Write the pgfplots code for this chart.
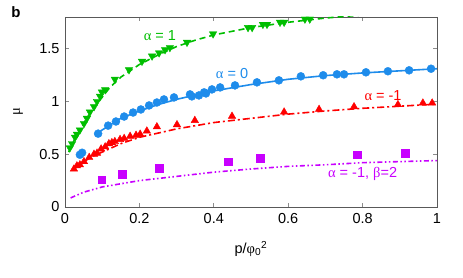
\documentclass[border=0pt]{standalone}
\usepackage{fontspec}
\setmainfont{Liberation Sans}
\newfontfamily\grk{Liberation Serif}
\usepackage{pgfplots}
\pgfplotsset{compat=1.18}
\definecolor{cgreen}{RGB}{0,190,0}
\definecolor{cblue}{RGB}{30,140,235}
\definecolor{cred}{RGB}{255,0,0}
\definecolor{cpurp}{RGB}{200,0,255}
\newcommand{\ff}{\fontsize{14.5}{16}\selectfont}
\begin{document}
\begin{tikzpicture}[font=\ff]
\begin{axis}[
  scale only axis, width=372pt, height=190pt,
  xmin=0, xmax=1, ymin=0, ymax=1.8,
  xtick={0,0.2,0.4,0.6,0.8,1}, ytick={0,0.5,1,1.5},
  xticklabels={0,0.2,0.4,0.6,0.8,1},
  yticklabels={0,0.5,1,1.5},
  /pgf/number format/assume math mode=true,
  tick align=inside, major tick length=4pt,
  axis line style={draw=black!65, line width=0.8pt},
  tick style={draw=black!45, line width=0.8pt},
  tick label style={font=\ff},
  xticklabel style={yshift=-3pt},
  yticklabel style={xshift=-2pt},
  label style={font=\ff},
  xlabel={p/{\grk φ}\textsubscript{0}\textsuperscript{2}},
  ylabel={\grk μ},
  xlabel style={at={(axis description cs:0.5,-0.22)}, anchor=center},
  ylabel style={at={(axis description cs:-0.126,0.5)}, anchor=center},
  clip=true,
]
% green alpha=1
\addplot[cgreen, line width=1.6pt, dash pattern=on 6pt off 4pt] coordinates {
(0.01,0.52)(0.02,0.60)(0.03,0.67)(0.04,0.73)(0.05,0.79)(0.06,0.85)(0.07,0.90)(0.08,0.95)
(0.1,1.04)(0.12,1.13)(0.15,1.23)(0.2,1.35)(0.25,1.44)(0.3,1.52)(0.35,1.58)(0.4,1.63)
(0.5,1.70)(0.6,1.75)(0.7,1.79)(0.8,1.82)};
\addplot[only marks, cgreen, mark=triangle*, mark size=4.3pt, mark options={rotate=180}] coordinates {
(0.013,0.56)(0.019,0.60)(0.027,0.66)(0.032,0.69)(0.040,0.73)(0.051,0.79)(0.059,0.84)
(0.067,0.90)(0.078,0.95)(0.086,1.00)(0.094,1.05)(0.099,1.09)(0.108,1.11)(0.134,1.21)
(0.172,1.30)(0.207,1.38)(0.234,1.43)(0.253,1.46)(0.269,1.49)(0.282,1.51)(0.328,1.56)
(0.398,1.64)(0.492,1.70)(0.503,1.70)(0.532,1.73)(0.543,1.73)(0.578,1.75)(0.589,1.75)
(0.645,1.78)(0.658,1.78)};
% blue alpha=0
\addplot[cblue, line width=1.6pt] coordinates {
(0.08,0.68)(0.1,0.73)(0.15,0.84)(0.2,0.91)(0.25,0.97)(0.3,1.02)(0.35,1.06)(0.4,1.10)
(0.5,1.16)(0.6,1.21)(0.7,1.245)(0.8,1.27)(0.9,1.29)(1.0,1.31)};
\addplot[only marks, cblue, mark=*, mark size=4pt] coordinates {
(0.040,0.495)(0.046,0.514)(0.089,0.695)(0.116,0.771)(0.137,0.81)(0.159,0.857)(0.183,0.895)
(0.204,0.924)(0.226,0.962)(0.247,0.99)(0.266,1.019)(0.293,1.038)(0.336,1.067)(0.341,1.048)
(0.360,1.057)(0.374,1.086)(0.379,1.076)(0.395,1.114)(0.417,1.133)(0.457,1.152)(0.516,1.181)
(0.575,1.20)(0.634,1.238)(0.694,1.248)(0.731,1.257)(0.750,1.257)(0.809,1.276)(0.868,1.286)
(0.925,1.295)(0.984,1.31)};
% red alpha=-1
\addplot[cred, line width=1.6pt, dash pattern=on 7pt off 3pt on 2pt off 3pt] coordinates {
(0.02,0.35)(0.04,0.40)(0.06,0.45)(0.08,0.49)(0.1,0.52)(0.15,0.60)(0.2,0.66)(0.25,0.70)
(0.3,0.74)(0.4,0.80)(0.5,0.84)(0.6,0.88)(0.7,0.91)(0.8,0.935)(0.9,0.955)(1.0,0.975)};
\addplot[only marks, cred, mark=triangle*, mark size=4.3pt] coordinates {
(0.024,0.36)(0.032,0.39)(0.040,0.40)(0.051,0.43)(0.065,0.47)(0.078,0.50)(0.086,0.51)
(0.097,0.55)(0.108,0.57)(0.118,0.60)(0.126,0.61)(0.134,0.62)(0.148,0.64)(0.159,0.65)
(0.175,0.67)(0.191,0.68)(0.202,0.69)(0.220,0.72)(0.247,0.76)(0.301,0.78)(0.349,0.82)
(0.449,0.86)(0.589,0.90)(0.683,0.925)(0.777,0.95)(0.895,0.97)(0.962,0.985)(0.987,0.985)};
% purple alpha=-1, beta=2
\addplot[cpurp, line width=1.6pt, dash pattern=on 5pt off 2.5pt on 1.5pt off 2.5pt on 1.5pt off 2.5pt] coordinates {
(0.015,0.086)(0.05,0.14)(0.1,0.19)(0.15,0.22)(0.2,0.25)(0.3,0.29)(0.4,0.33)(0.5,0.36)
(0.6,0.385)(0.7,0.40)(0.8,0.42)(0.9,0.43)(1.0,0.44)};
\addplot[only marks, cpurp, mark=square*, mark size=3.8pt] coordinates {
(0.099,0.257)(0.153,0.31)(0.253,0.37)(0.438,0.43)(0.524,0.46)(0.785,0.495)(0.914,0.51)};
\node[text=cgreen, font=\ff] at (axis cs:0.255,1.62) {{\grk α} = 1};
\node[text=cblue, font=\ff] at (axis cs:0.449,1.26) {{\grk α} = 0};
\node[text=cred, font=\ff] at (axis cs:0.855,1.06) {{\grk α} = -1};
\node[text=cpurp, font=\ff] at (axis cs:0.80,0.31) {{\grk α} = -1, {\grk β}=2};
\end{axis}
\node[font=\bfseries\fontsize{15}{17}\selectfont] at ([xshift=-49pt,yshift=5pt]current axis.north west) {b};
\path[use as bounding box] ([xshift=-65pt,yshift=-71pt]current axis.south west) rectangle ([xshift=26pt,yshift=17pt]current axis.north east);
\end{tikzpicture}
\end{document}
